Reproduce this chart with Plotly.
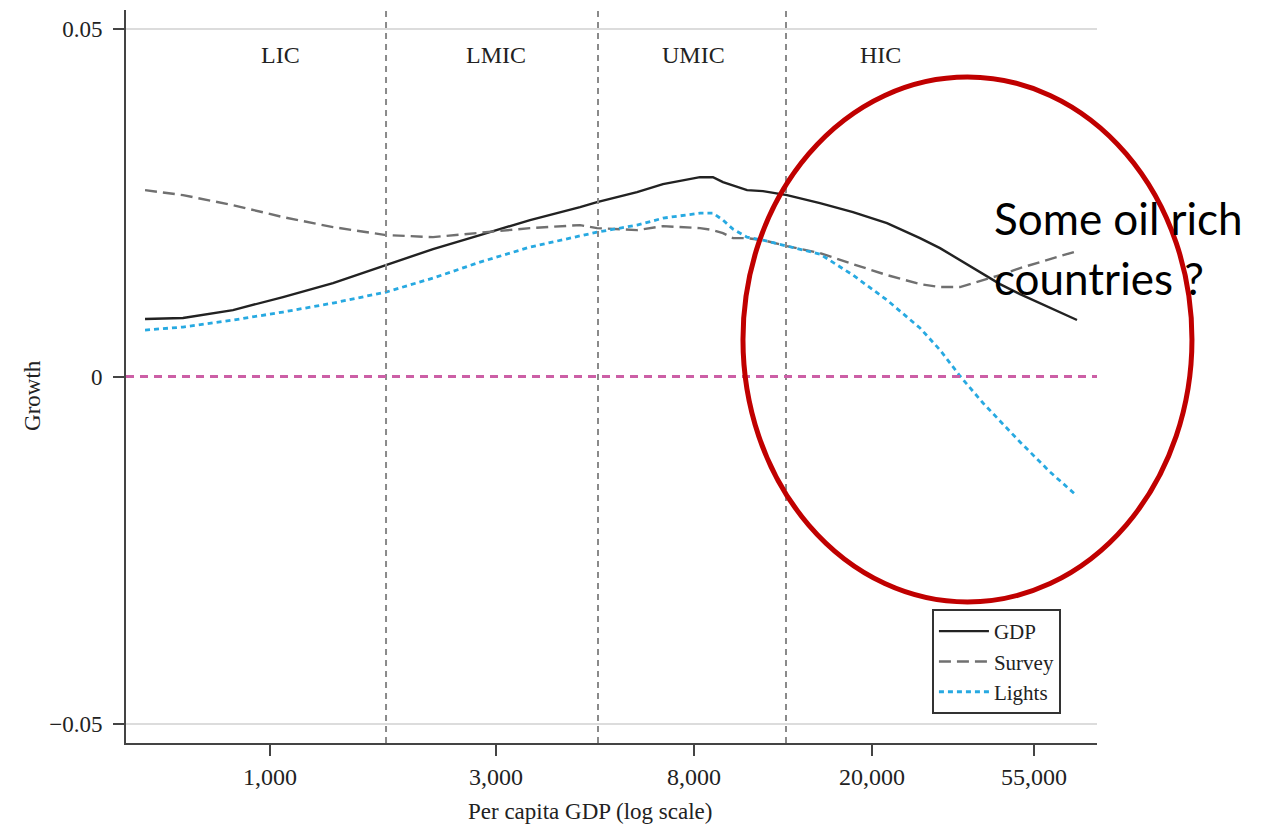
import plotly.graph_objects as go

# Position along the (log-scale) GDP axis, 0-100 of the axis width
x_pos = [1.96, 5.87, 11.02, 16.17, 21.32, 26.78, 31.62, 36.46, 41.61, 46.76,
         48.51, 52.63, 55.30, 59.11, 60.45, 61.48, 62.51, 63.96, 65.60, 68.07,
         71.47, 74.87, 78.37, 81.77, 83.83, 85.89, 88.26, 90.01, 92.07, 95.16, 97.94]

gdp = [0.00826, 0.00841, 0.00955, 0.01142, 0.01343, 0.01602, 0.01832, 0.02033, 0.02249, 0.02435,
       0.02507, 0.02651, 0.02766, 0.02866, 0.02866, 0.02795, 0.02751, 0.02680, 0.02665, 0.02608,
       0.02493, 0.02364, 0.02205, 0.01990, 0.01846, 0.01674, 0.01473, 0.01329, 0.01185, 0.00984, 0.00812]

survey = [0.02680, 0.02608, 0.02464, 0.02292, 0.02148, 0.02033, 0.02004, 0.02062, 0.02134, 0.02177,
          0.02134, 0.02105, 0.02162, 0.02134, 0.02105, 0.02062, 0.01990, 0.01990, 0.01961, 0.01875,
          0.01774, 0.01616, 0.01458, 0.01329, 0.01286, 0.01286, 0.01387, 0.01458, 0.01559, 0.01688, 0.01803]

lights = [0.00668, 0.00711, 0.00812, 0.00927, 0.01056, 0.01214, 0.01415, 0.01645, 0.01861, 0.02019,
          0.02076, 0.02177, 0.02277, 0.02349, 0.02349, 0.02249, 0.02119, 0.02004, 0.01961, 0.01875,
          0.01760, 0.01458, 0.01099, 0.00697, 0.00381, 0.00007, -0.00381, -0.00639, -0.00941, -0.01372, -0.01717]

tick_pos = [14.83, 38.10, 58.50, 76.83, 93.51]
tick_text = ["1,000", "3,000", "8,000", "20,000", "55,000"]

threshold_pos = [26.78, 48.61, 67.97]
group_pos = [15.86, 38.10, 58.40, 77.70]
group_names = ["LIC", "LMIC", "UMIC", "HIC"]

y_ticks = [-0.05, 0, 0.05]
y_text = ["\u22120.05", "0", "0.05"]

SERIF = "Liberation Serif"
TXT = "#222222"

fig = go.Figure()
fig.add_trace(go.Scatter(x=x_pos, y=gdp, name="GDP", mode="lines",
                         line=dict(color="#222222", width=2.4)))
fig.add_trace(go.Scatter(x=x_pos, y=survey, name="Survey", mode="lines",
                         line=dict(color="#707070", width=2.4, dash="12px,6px")))
fig.add_trace(go.Scatter(x=x_pos, y=lights, name="Lights", mode="lines",
                         line=dict(color="#27a9e1", width=2.8, dash="5px,4px")))

shapes = []
for xp in threshold_pos:
    shapes.append(dict(type="line", xref="x", yref="paper", x0=xp, x1=xp, y0=0, y1=1.003,
                       line=dict(color="#8a8a8a", width=2, dash="6px,5px"), layer="above"))
shapes.append(dict(type="line", xref="paper", yref="y", x0=0, x1=1, y0=0, y1=0,
                   line=dict(color="#cc5fa6", width=2.8, dash="8px,6px"), layer="above"))
# red highlight ellipse
shapes.append(dict(type="circle", xref="paper", yref="paper",
                   x0=0.6354, x1=1.0978, y0=0.1924, y1=0.9086,
                   line=dict(color="#c00000", width=5), layer="above"))

annotations = []
for xp, nm in zip(group_pos, group_names):
    annotations.append(dict(x=xp, y=0.0462, xref="x", yref="y", text=nm, showarrow=False,
                            xanchor="center", yanchor="middle",
                            font=dict(family=SERIF, size=24, color=TXT)))
annotations.append(dict(x=0.478, y=-0.0941, xref="paper", yref="paper",
                        text="Per capita GDP (log scale)", showarrow=False,
                        xanchor="center", yanchor="middle",
                        font=dict(family=SERIF, size=23, color=TXT)))
annotations.append(dict(x=-0.0958, y=0.4748, xref="paper", yref="paper", text="Growth",
                        textangle=-90, showarrow=False, xanchor="center", yanchor="middle",
                        font=dict(family=SERIF, size=23, color=TXT)))
annotations.append(dict(x=0.892, y=0.7162, xref="paper", yref="paper", text="Some oil rich",
                        xanchor="left", yanchor="middle", showarrow=False,
                        font=dict(family="Lato", size=44, color="#000000")))
annotations.append(dict(x=0.892, y=0.6344, xref="paper", yref="paper", text="countries ?",
                        xanchor="left", yanchor="middle", showarrow=False,
                        font=dict(family="Lato", size=44, color="#000000")))

fig.update_layout(
    width=1268, height=828,
    margin=dict(l=126, r=171, t=10, b=85),
    paper_bgcolor="white", plot_bgcolor="white",
    font=dict(family=SERIF, size=23, color=TXT),
    showlegend=True,
    legend=dict(x=0.830, y=0.1828, xanchor="left", yanchor="top",
                bgcolor="white", bordercolor="#333333", borderwidth=2,
                itemwidth=50,
                font=dict(family=SERIF, size=21, color=TXT)),
    shapes=shapes, annotations=annotations,
)
fig.update_xaxes(range=[0, 100], tickmode="array", tickvals=tick_pos, ticktext=tick_text,
                 showgrid=False, zeroline=False, showline=True, linecolor="#444444", linewidth=2,
                 ticks="outside", ticklen=11, tickwidth=2, tickcolor="#444444",
                 tickfont=dict(family=SERIF, size=24, color=TXT))
fig.update_yaxes(range=[-0.0527, 0.0527], tickmode="array", tickvals=y_ticks, ticktext=y_text,
                 showgrid=True, gridcolor="#dcdcdc", gridwidth=2,
                 zeroline=True, zerolinecolor="white", zerolinewidth=4,
                 showline=True, linecolor="#444444", linewidth=2,
                 ticks="outside", ticklen=11, tickwidth=2, tickcolor="#444444",
                 ticklabelstandoff=6,
                 tickfont=dict(family=SERIF, size=23, color=TXT))

fig.write_html("out.html")
